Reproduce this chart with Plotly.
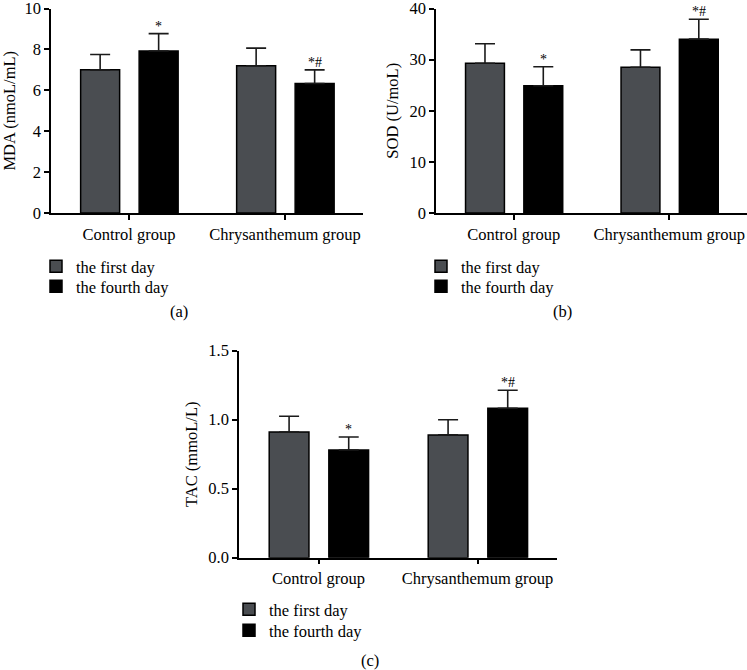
import plotly.graph_objects as go

W, H = 747, 670
FONT = "Liberation Serif"

categories = ["Control group", "Chrysanthemum group"]
series_names = ["the first day", "the fourth day"]

mda_first = [7.0, 7.2]
mda_first_err = [0.75, 0.86]
mda_fourth = [7.92, 6.33]
mda_fourth_err = [0.85, 0.67]

sod_first = [29.3, 28.5]
sod_first_err = [3.8, 3.4]
sod_fourth = [24.9, 34.0]
sod_fourth_err = [3.7, 3.9]

tac_first = [0.91, 0.89]
tac_first_err = [0.115, 0.11]
tac_fourth = [0.78, 1.083]
tac_fourth_err = [0.095, 0.13]

marks_fourth = ["*", "*#"]

y_titles = ["MDA (nmoL/mL)", "SOD (U/moL)", "TAC (mmoL/L)"]
y_ranges = [[0, 10], [0, 40], [0, 1.5]]
y_dticks = [2, 10, 0.5]
y_tickformats = ["", "", ".1f"]
panel_labels = ["(a)", "(b)", "(c)"]

colors = ["#4a4d51", "#000000"]
BAR_W = 0.25
OFFSETS = [-0.31, 0.065]

# pixel boxes of plot areas: (x0, x1, ytop, ybottom)
boxes = [(51, 363, 8.5, 213), (436, 747, 8.5, 213), (239, 557, 350.7, 557.7)]
# legend item (left x, top y) per panel, per series
legend_pos = [[(36, 249), (36, 269)], [(421, 249), (421, 269)], [(229, 592), (229, 613)]]
label_pos = [(179, 312), (562, 312), (370, 660)]

panels = [
    (mda_first, mda_first_err, mda_fourth, mda_fourth_err),
    (sod_first, sod_first_err, sod_fourth, sod_fourth_err),
    (tac_first, tac_first_err, tac_fourth, tac_fourth_err),
]

fig = go.Figure()
annotations = []
layout_updates = {}
xs = list(range(len(categories)))

for p, (f, fe, h, he) in enumerate(panels):
    ax = "" if p == 0 else str(p + 1)
    for s, (vals, errs) in enumerate([(f, fe), (h, he)]):
        n = p * 2 + s
        leg = "legend" if n == 0 else f"legend{n + 1}"
        fig.add_trace(go.Bar(
            x=xs, y=vals, name=series_names[s],
            width=BAR_W, offset=OFFSETS[s],
            marker=dict(color=colors[s], line=dict(color="#000000", width=1.5)),
            error_y=dict(type="data", array=errs, arrayminus=[0] * len(errs),
                         symmetric=False, color="#1a1a1a", thickness=1.6, width=10),
            xaxis="x" + ax, yaxis="y" + ax, legend=leg,
        ))
        lx, ly = legend_pos[p][s]
        layout_updates[leg] = dict(
            x=lx / W, y=1 - ly / H, xanchor="left", yanchor="top",
            bgcolor="rgba(0,0,0,0)", font=dict(family=FONT, size=16.5, color="#000"),
            itemclick=False, itemdoubleclick=False)
    # significance marks above fourth-day bars
    for i in xs:
        annotations.append(dict(
            x=i + OFFSETS[1] + BAR_W / 2, y=h[i] + he[i],
            xref="x" + ax, yref="y" + ax, text=marks_fourth[i],
            showarrow=False, yanchor="bottom", yshift=-2,
            font=dict(family=FONT, size=14, color="#000"),
        ))
    x0, x1, yt, yb = boxes[p]
    common_axis = dict(showline=True, linecolor="#000", linewidth=1.5,
                       ticks="outside", ticklen=5, tickwidth=1.5, tickcolor="#000",
                       showgrid=False, zeroline=False, automargin=False,
                       ticklabeloverflow="allow", fixedrange=True,
                       tickfont=dict(family=FONT, size=16.5, color="#000"))
    layout_updates["xaxis" + ax] = dict(
        domain=[x0 / W, x1 / W], range=[-0.5, 1.5], tickvals=xs, ticktext=categories,
        anchor="y" + ax, **common_axis)
    layout_updates["yaxis" + ax] = dict(
        domain=[1 - yb / H, 1 - yt / H], range=y_ranges[p], dtick=y_dticks[p], tick0=0,
        tickformat=y_tickformats[p], anchor="x" + ax,
        title=dict(text=y_titles[p], standoff=7,
                   font=dict(family=FONT, size=16.5, color="#000")),
        **common_axis)
    annotations.append(dict(
        x=label_pos[p][0] / W, y=1 - label_pos[p][1] / H, xref="paper", yref="paper",
        text=panel_labels[p], showarrow=False, xanchor="center", yanchor="middle",
        font=dict(family=FONT, size=16.5, color="#000"),
    ))

fig.update_layout(**layout_updates)
fig.update_layout(
    width=W, height=H, margin=dict(l=0, r=0, t=0, b=0, autoexpand=False),
    paper_bgcolor="#ffffff", plot_bgcolor="#ffffff",
    barmode="group", showlegend=True, annotations=annotations,
)

fig.write_html("out.html", config={"displayModeBar": False},
               post_script="document.body.style.margin='0px';document.body.style.overflow='hidden';")
